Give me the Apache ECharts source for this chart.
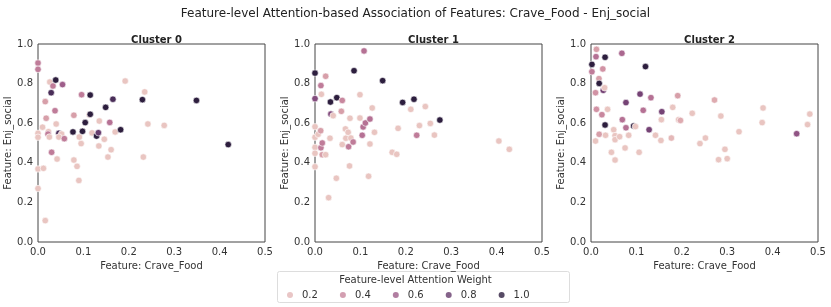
<!DOCTYPE html>
<html><head><meta charset="utf-8">
<script src="https://cdn.jsdelivr.net/npm/echarts@6/dist/echarts.min.js"></script>
<style>html,body{margin:0;padding:0;background:#fff}#c{width:831px;height:307px}</style>
</head><body><div id="c"></div>
<script>
// ---- data: [Crave_Food, Enj_social, attention weight] ----
var cluster0 = [
[0.0,0.904,0.45],[0.0,0.872,0.45],[0.0,0.549,0.15],[0.0,0.529,0.15],[0.0,0.369,0.15],[0.0,0.27,0.15],
[0.016,0.108,0.15],[0.012,0.372,0.15],[0.01,0.58,0.15],[0.016,0.709,0.3],[0.018,0.625,0.3],[0.026,0.808,0.15],
[0.029,0.754,0.9],[0.033,0.788,0.45],[0.039,0.818,1.0],[0.054,0.795,0.6],[0.0375,0.663,0.45],[0.04,0.596,0.15],
[0.023,0.557,0.15],[0.022,0.545,0.45],[0.025,0.53,0.15],[0.030,0.453,0.45],[0.042,0.419,0.15],[0.046,0.549,0.9],
[0.052,0.545,0.15],[0.046,0.53,0.15],[0.058,0.522,0.45],[0.079,0.414,0.15],[0.086,0.382,0.15],[0.09,0.311,0.15],
[0.091,0.53,0.15],[0.095,0.497,0.15],[0.079,0.64,0.3],[0.077,0.556,1.0],[0.096,0.744,0.45],[0.098,0.559,1.0],
[0.104,0.603,1.0],[0.115,0.742,1.0],[0.113,0.643,0.15],[0.115,0.645,1.0],[0.119,0.551,0.15],[0.129,0.535,1.0],
[0.133,0.552,0.8],[0.135,0.611,0.15],[0.134,0.485,0.15],[0.146,0.519,0.15],[0.149,0.68,1.0],[0.158,0.604,0.5],
[0.161,0.466,0.15],[0.154,0.429,0.15],[0.165,0.721,0.9],[0.17,0.556,0.15],[0.182,0.567,1.0],[0.192,0.813,0.15],
[0.23,0.719,1.0],[0.235,0.758,0.15],[0.232,0.429,0.15],[0.242,0.596,0.15],[0.278,0.589,0.15],[0.349,0.715,1.0],
[0.419,0.492,1.0]
];
var cluster1 = [
[0.0,0.853,1.0],[0.0,0.724,0.7],[0.0,0.582,0.15],[0.0,0.529,0.15],[0.0,0.478,0.15],[0.0,0.448,0.15],[0.0,0.38,0.15],
[0.007,0.544,0.15],[0.0125,0.562,0.3],[0.013,0.79,0.45],[0.014,0.746,0.15],[0.013,0.476,0.45],[0.016,0.5,0.45],
[0.016,0.441,0.3],[0.0235,0.441,0.15],[0.0235,0.837,0.3],[0.034,0.707,1.0],[0.035,0.646,0.7],[0.04,0.638,0.15],
[0.033,0.524,0.15],[0.03,0.224,0.15],[0.047,0.322,0.15],[0.048,0.729,1.0],[0.06,0.715,0.4],[0.058,0.66,0.3],
[0.06,0.492,0.15],[0.067,0.571,0.15],[0.068,0.524,0.15],[0.073,0.554,0.15],[0.074,0.481,0.45],[0.077,0.625,0.15],
[0.079,0.525,0.15],[0.076,0.384,0.15],[0.084,0.505,0.45],[0.086,0.865,1.0],[0.099,0.744,0.15],[0.099,0.626,0.15],
[0.104,0.539,0.5],[0.106,0.581,0.5],[0.111,0.601,0.5],[0.108,0.965,0.5],[0.121,0.621,0.5],[0.121,0.495,0.15],
[0.118,0.332,0.15],[0.126,0.677,0.15],[0.131,0.554,0.15],[0.149,0.815,1.0],[0.17,0.453,0.15],[0.18,0.443,0.15],
[0.183,0.574,0.15],[0.193,0.705,1.0],[0.211,0.67,0.15],[0.218,0.721,1.0],[0.224,0.539,0.45],[0.23,0.588,0.15],
[0.243,0.684,0.15],[0.254,0.599,0.15],[0.263,0.54,0.15],[0.275,0.616,1.0],[0.405,0.51,0.15],[0.428,0.468,0.15]
];
var cluster2 = [
[0.002,0.897,1.0],[0.002,0.86,0.45],[0.012,0.973,0.3],[0.011,0.936,0.5],[0.031,0.933,1.0],[0.068,0.953,0.55],
[0.12,0.886,1.0],[0.0175,0.825,0.3],[0.018,0.801,1.0],[0.027,0.766,0.75],[0.03,0.779,0.15],[0.01,0.754,0.35],
[0.026,0.874,0.35],[0.012,0.67,0.35],[0.0365,0.67,0.15],[0.024,0.643,0.4],[0.031,0.591,1.0],[0.018,0.544,0.3],
[0.01,0.51,0.15],[0.032,0.539,0.15],[0.05,0.567,0.15],[0.053,0.537,0.15],[0.053,0.517,0.15],[0.063,0.532,0.15],
[0.045,0.453,0.15],[0.053,0.414,0.15],[0.077,0.704,0.75],[0.069,0.618,0.5],[0.077,0.577,0.5],[0.075,0.475,0.15],
[0.083,0.539,0.15],[0.094,0.586,1.0],[0.098,0.583,0.15],[0.106,0.453,0.15],[0.108,0.747,0.75],[0.115,0.665,0.5],
[0.128,0.567,0.75],[0.132,0.729,0.5],[0.142,0.539,0.15],[0.154,0.513,0.15],[0.155,0.618,0.15],[0.156,0.658,0.75],
[0.177,0.525,0.2],[0.18,0.68,0.15],[0.191,0.739,0.3],[0.193,0.618,0.15],[0.197,0.614,0.25],[0.223,0.65,0.15],
[0.24,0.497,0.15],[0.252,0.525,0.15],[0.272,0.717,0.25],[0.286,0.636,0.15],[0.281,0.416,0.15],[0.295,0.468,0.15],
[0.3,0.421,0.15],[0.326,0.557,0.15],[0.377,0.603,0.15],[0.379,0.677,0.15],[0.453,0.547,0.65],[0.477,0.593,0.15],
[0.482,0.646,0.15]
];
var clusterNames = ["Cluster 0", "Cluster 1", "Cluster 2"];
var legendValues = ["0.2", "0.4", "0.6", "0.8", "1.0"];
var xTicks = [0, 0.1, 0.2, 0.3, 0.4, 0.5];
var yTicks = [0, 0.2, 0.4, 0.6, 0.8, 1.0];

// seaborn default cubehelix colormap (light -> dark)
var wMin = 0.1, wMax = 1.0;
function cubehelix(t) {
  var x = 0.85 - 0.7 * t, start = 0, rot = 0.4, hue = 0.8;
  var phi = 2 * Math.PI * (start / 3 + rot * x);
  var a = hue * x * (1 - x) / 2;
  var c = Math.cos(phi), s = Math.sin(phi);
  var r = x + a * (-0.14861 * c + 1.78277 * s);
  var g = x + a * (-0.29227 * c - 0.90649 * s);
  var b = x + a * (1.97294 * c);
  function h(v) { v = Math.max(0, Math.min(1, v)); var n = Math.round(v * 255).toString(16); return n.length < 2 ? '0' + n : n; }
  return '#' + h(r) + h(g) + h(b);
}
function colorFor(w) { return cubehelix((w - wMin) / (wMax - wMin)); }
var stops = [];
for (var i = 0; i <= 40; i++) stops.push(cubehelix(i / 40));

var FONT = 'DejaVu Sans';
var lefts = [38, 315, 591];
var datasets = [cluster0, cluster1, cluster2];
var grids = [], xAxes = [], yAxes = [], series = [], titles = [];
titles.push({ text: 'Feature-level Attention-based Association of Features: Crave_Food - Enj_social', left: 'center', top: 3,
  textStyle: { fontFamily: FONT, fontSize: 12, fontWeight: 'normal', color: '#222' } });
for (var k = 0; k < 3; k++) {
  grids.push({ left: lefts[k], top: 44, width: 227, height: 198, show: true, borderColor: '#444', borderWidth: 1, backgroundColor: '#fff' });
  titles.push({ text: clusterNames[k], left: lefts[k] + 113.5, top: 30, textAlign: 'center',
    textStyle: { fontFamily: FONT, fontSize: 10, fontWeight: 'bold', color: '#222' } });
  xAxes.push({ gridIndex: k, type: 'value', min: xTicks[0], max: xTicks[xTicks.length - 1], interval: 0.1,
    name: 'Feature: Crave_Food', nameLocation: 'middle', nameGap: 19,
    nameTextStyle: { fontFamily: FONT, fontSize: 10, color: '#333' },
    axisLine: { show: false }, axisTick: { show: false }, splitLine: { show: false },
    axisLabel: { fontFamily: FONT, fontSize: 10, color: '#333', margin: 5, formatter: function (v) { return v.toFixed(1); } } });
  yAxes.push({ gridIndex: k, type: 'value', min: yTicks[0], max: yTicks[yTicks.length - 1], interval: 0.2,
    name: 'Feature: Enj_social', nameLocation: 'middle', nameGap: 21,
    nameTextStyle: { fontFamily: FONT, fontSize: 10, color: '#333' },
    axisLine: { show: false }, axisTick: { show: false }, splitLine: { show: false },
    axisLabel: { fontFamily: FONT, fontSize: 10, color: '#333', margin: 5, formatter: function (v) { return v.toFixed(1); } } });
  series.push({ type: 'scatter', xAxisIndex: k, yAxisIndex: k, data: datasets[k], symbolSize: 6.5,
    itemStyle: { borderColor: '#fff', borderWidth: 0.6, opacity: 1 }, silent: true });
}
// legend-only series
for (var j = 0; j < legendValues.length; j++) {
  series.push({ type: 'scatter', name: legendValues[j], xAxisIndex: 0, yAxisIndex: 0, data: [],
    itemStyle: { color: colorFor(parseFloat(legendValues[j])) } });
}
var chart = echarts.init(document.getElementById('c'), null, { renderer: 'canvas' });
chart.setOption({
  animation: false,
  backgroundColor: '#fff',
  title: titles,
  grid: grids, xAxis: xAxes, yAxis: yAxes, series: series,
  visualMap: { show: false, type: 'continuous', dimension: 2, min: wMin, max: wMax, seriesIndex: [0, 1, 2],
    inRange: { color: stops } },
  legend: { data: legendValues, left: 282, top: 290, padding: [0, 5], itemWidth: 6, itemHeight: 6, itemGap: 22, icon: 'circle',
    textStyle: { fontFamily: FONT, fontSize: 10, color: '#333', width: 20, padding: [0, 0, 0, 4] }, selectedMode: false },
  graphic: [
    { type: 'rect', left: 277, top: 271, shape: { width: 292, height: 31, r: 2 }, style: { fill: 'rgba(255,255,255,0.8)', stroke: '#ddd', lineWidth: 1 }, z: -1 },
    { type: 'text', left: 'center', top: 275, style: { text: 'Feature-level Attention Weight', font: '10px "DejaVu Sans"', fill: '#333' } }
  ]
});
</script></body></html>
